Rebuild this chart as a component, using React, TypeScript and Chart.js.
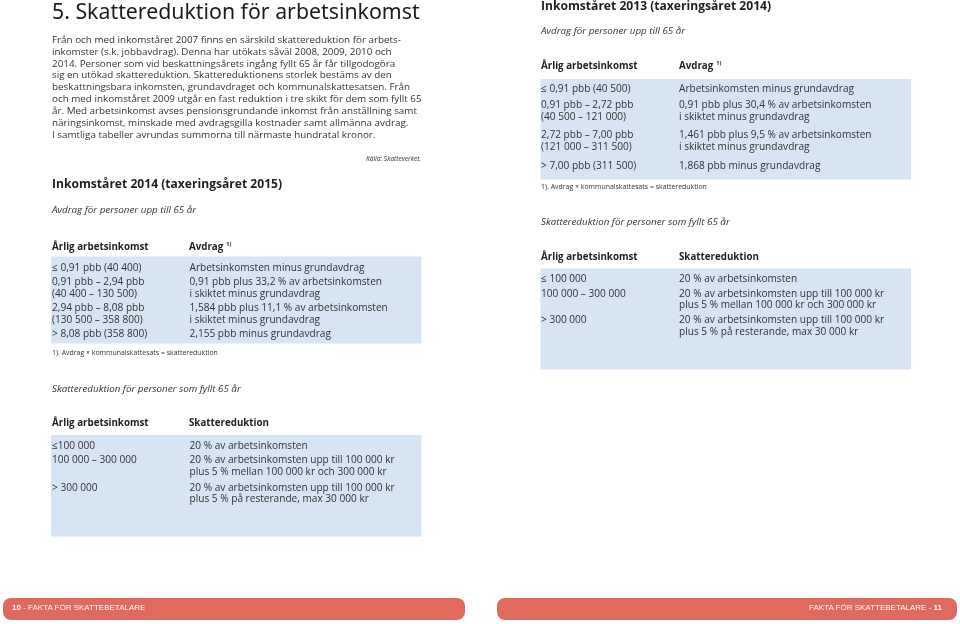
import React, { useEffect, useRef } from "react";
import Chart from "chart.js/auto";

// ---------- DATA ----------
const pageTitle = "5. Skattereduktion för arbetsinkomst";
const introLines = [
  "Från och med inkomståret 2007 finns en särskild skattereduktion för arbets-",
  "inkomster (s.k. jobbavdrag). Denna har utökats såväl 2008, 2009, 2010 och",
  "2014. Personer som vid beskattningsårets ingång fyllt 65 år får tillgodogöra",
  "sig en utökad skattereduktion. Skattereduktionens storlek bestäms av den",
  "beskattningsbara inkomsten, grundavdraget och kommunalskattesatsen. Från",
  "och med inkomståret 2009 utgår en fast reduktion i tre skikt för dem som fyllt 65",
  "år. Med arbetsinkomst avses pensionsgrundande inkomst från anställning samt",
  "näringsinkomst, minskade med avdragsgilla kostnader samt allmänna avdrag.",
  "I samtliga tabeller avrundas summorna till närmaste hundratal kronor.",
];
const sourceNote = "Källa: Skatteverket.";
const heading2014 = "Inkomståret 2014 (taxeringsåret 2015)";
const heading2013 = "Inkomståret 2013 (taxeringsåret 2014)";
const subUnder65 = "Avdrag för personer upp till 65 år";
const subOver65 = "Skattereduktion för personer som fyllt 65 år";
const colIncome = "Årlig arbetsinkomst";
const colDeduction = "Avdrag";
const colReduction = "Skattereduktion";
const footnote = "1). Avdrag × kommunalskattesats = skattereduktion";

const income2014 = [
  ["≤ 0,91 pbb (40 400)"],
  ["0,91 pbb – 2,94 pbb", "(40 400 – 130 500)"],
  ["2,94 pbb – 8,08 pbb", "(130 500 – 358 800)"],
  ["> 8,08 pbb (358 800)"],
];
const deduction2014 = [
  ["Arbetsinkomsten minus grundavdrag"],
  ["0,91 pbb plus 33,2 % av arbetsinkomsten", "i skiktet minus grundavdrag"],
  ["1,584 pbb plus 11,1 % av arbetsinkomsten", "i skiktet minus grundavdrag"],
  ["2,155 pbb minus grundavdrag"],
];
const seniorIncome2014 = [["≤100 000"], ["100 000 – 300 000"], ["> 300 000"]];
const seniorReduction2014 = [
  ["20 % av arbetsinkomsten"],
  ["20 % av arbetsinkomsten upp till 100 000 kr", "plus 5 % mellan 100 000 kr och 300 000 kr"],
  ["20 % av arbetsinkomsten upp till 100 000 kr", "plus 5 % på resterande, max 30 000 kr"],
];
const income2013 = [
  ["≤ 0,91 pbb (40 500)"],
  ["0,91 pbb – 2,72 pbb", "(40 500 – 121 000)"],
  ["2,72 pbb – 7,00 pbb", "(121 000 – 311 500)"],
  ["> 7,00 pbb (311 500)"],
];
const deduction2013 = [
  ["Arbetsinkomsten minus grundavdrag"],
  ["0,91 pbb plus 30,4 % av arbetsinkomsten", "i skiktet minus grundavdrag"],
  ["1,461 pbb plus 9,5 % av arbetsinkomsten", "i skiktet minus grundavdrag"],
  ["1,868 pbb minus grundavdrag"],
];
const seniorIncome2013 = [["≤ 100 000"], ["100 000 – 300 000"], ["> 300 000"]];
const seniorReduction2013 = [
  ["20 % av arbetsinkomsten"],
  ["20 % av arbetsinkomsten upp till 100 000 kr", "plus 5 % mellan 100 000 kr och 300 000 kr"],
  ["20 % av arbetsinkomsten upp till 100 000 kr", "plus 5 % på resterande, max 30 000 kr"],
];
const footerLeft = ["10", " - FAKTA FÖR SKATTEBETALARE"];
const footerRight = ["FAKTA FÖR SKATTEBETALARE - ", "11"];

// ---------- LAYOUT / STYLE ----------
const W = 960;
const H = 624;
const TEXT = "#333333";
const DARK = "#1f1f1f";
const BLUE = "#d6e4f4";
const RED = "#e06a5e";
const FONT = "'Open Sans', sans-serif";

const panels = [
  { x0: 51, x1: 421.5, y0: 256.5, y1: 343.5, r: 0, color: BLUE },
  { x0: 51, x1: 421.5, y0: 435, y1: 536.5, r: 0, color: BLUE },
  { x0: 540.5, x1: 911, y0: 79, y1: 179.5, r: 0, color: BLUE },
  { x0: 540.5, x1: 911, y0: 268.5, y1: 369.5, r: 0, color: BLUE },
  { x0: 3, x1: 465, y0: 598, y1: 620, r: 8, color: RED },
  { x0: 497, x1: 957, y0: 598, y1: 620, r: 8, color: RED },
];

type TP = {
  x: number; y: number; s: number; w?: number; i?: boolean; right?: boolean;
  color?: string; fam?: string; ls?: number; children: React.ReactNode;
};
const T = ({ x, y, s, w = 400, i = false, right = false, color = TEXT, fam = FONT, ls = 0, children }: TP) => {
  const lh = Math.round(s * 2);
  const style: React.CSSProperties = {
    position: "absolute",
    top: y - lh / 2 - s * 0.07,
    height: lh,
    lineHeight: lh + "px",
    fontSize: s,
    fontWeight: w,
    fontStyle: i ? "italic" : "normal",
    fontFamily: fam,
    color,
    whiteSpace: "nowrap",
    letterSpacing: ls,
  };
  if (right) style.right = W - x;
  else style.left = x;
  return <div style={style}>{children}</div>;
};

const Table = ({ x1, x2, rows, gap, c1, c2, s }: { x1: number; x2: number; rows: number[]; gap: number; c1: string[][]; c2: string[][]; s: number }) => (
  <>
    {rows.map((ry, r) => (
      <React.Fragment key={r}>
        {c1[r].map((t, k) => (
          <T key={"a" + k} x={x1} y={ry + k * gap} s={s}>{t}</T>
        ))}
        {c2[r].map((t, k) => (
          <T key={"b" + k} x={x2} y={ry + k * gap} s={s}>{t}</T>
        ))}
      </React.Fragment>
    ))}
  </>
);

const Head = ({ x1, x2, y, second, sup }: { x1: number; x2: number; y: number; second: string; sup: boolean }) => (
  <>
    <T x={x1} y={y} s={9.75} w={700} color={DARK}>{colIncome}</T>
    <T x={x2} y={y} s={9.75} w={700} color={DARK}>
      {second}
      {sup ? (
        <span style={{ fontSize: 5.5, marginLeft: 3, position: "relative", top: -3.5, lineHeight: 0 }}>1)</span>
      ) : null}
    </T>
  </>
);

const panelPlugin = {
  id: "panels",
  beforeDatasetsDraw(chart: any) {
    const { ctx, scales } = chart;
    const xs = scales.x;
    const ys = scales.y;
    ctx.save();
    panels.forEach((p) => {
      const left = xs.getPixelForValue(p.x0);
      const right = xs.getPixelForValue(p.x1);
      const top = ys.getPixelForValue(p.y0);
      const bottom = ys.getPixelForValue(p.y1);
      ctx.fillStyle = p.color;
      ctx.beginPath();
      if (p.r > 0) ctx.roundRect(left, top, right - left, bottom - top, p.r);
      else ctx.rect(left, top, right - left, bottom - top);
      ctx.fill();
    });
    ctx.restore();
  },
};

export default function App() {
  const ref = useRef<HTMLCanvasElement | null>(null);
  useEffect(() => {
    if (!ref.current) return;
    const chart = new Chart(ref.current, {
      type: "scatter",
      data: { datasets: [] },
      options: {
        animation: false,
        responsive: false,
        events: [],
        layout: { padding: 0 },
        plugins: { legend: { display: false }, tooltip: { enabled: false } },
        scales: {
          x: { type: "linear", min: 0, max: W, display: false },
          y: { type: "linear", min: 0, max: H, reverse: true, display: false },
        },
      },
      plugins: [panelPlugin],
    } as any);
    return () => chart.destroy();
  }, []);

  const bs = 9.85;
  const ts = 10.1;
  const hs = 12.1;
  return (
    <div style={{ position: "fixed", left: 0, top: 0, width: W, height: H, background: "#fff", overflow: "hidden" }}>
      <canvas ref={ref} width={W} height={H} style={{ position: "absolute", left: 0, top: 0, width: W, height: H }} />

      {/* Left page */}
      <T x={52} y={12} s={21.3} w={400} color="#1c1c1c" fam="'Noto Sans', sans-serif">{pageTitle}</T>
      {introLines.map((l, k) => (
        <T key={k} x={52} y={39.5 + k * 11.85} s={bs}>{l}</T>
      ))}
      <T x={421} y={159} s={6.6} i right>{sourceNote}</T>
      <T x={52} y={185} s={hs} w={700} color={DARK}>{heading2014}</T>
      <T x={52} y={211} s={9.8} i>{subUnder65}</T>
      <Head x1={52} x2={189} y={247.5} second={colDeduction} sup />
      <Table x1={52} x2={189.5} rows={[268, 281.7, 307.7, 334]} gap={12.3} c1={income2014} c2={deduction2014} s={ts} />
      <T x={52} y={353.5} s={6.95}>{footnote}</T>
      <T x={52} y={390} s={9.8} i>{subOver65}</T>
      <Head x1={52} x2={189} y={424} second={colReduction} sup={false} />
      <Table x1={52} x2={189.5} rows={[445.5, 460, 487.3]} gap={11.7} c1={seniorIncome2014} c2={seniorReduction2014} s={ts} />

      {/* Right page */}
      <T x={541} y={6.5} s={hs} w={700} color={DARK}>{heading2013}</T>
      <T x={541} y={31.5} s={9.8} i>{subUnder65}</T>
      <Head x1={541} x2={679} y={66.5} second={colDeduction} sup />
      <Table x1={541} x2={679} rows={[88.3, 105, 135, 166]} gap={11.8} c1={income2013} c2={deduction2013} s={ts} />
      <T x={541} y={187.5} s={6.95}>{footnote}</T>
      <T x={541} y={222.5} s={9.8} i>{subOver65}</T>
      <Head x1={541} x2={679} y={257.5} second={colReduction} sup={false} />
      <Table x1={541} x2={679} rows={[279, 293.3, 320]} gap={11.7} c1={seniorIncome2013} c2={seniorReduction2013} s={ts} />

      {/* Footers */}
      <T x={12} y={608.5} s={8} color="#fff" fam="'Liberation Sans Narrow', 'Liberation Sans', sans-serif">
        <b>{footerLeft[0]}</b>{footerLeft[1]}
      </T>
      <T x={942} y={608.5} s={8} right color="#fff" fam="'Liberation Sans Narrow', 'Liberation Sans', sans-serif">
        {footerRight[0]}<b>{footerRight[1]}</b>
      </T>
    </div>
  );
}
